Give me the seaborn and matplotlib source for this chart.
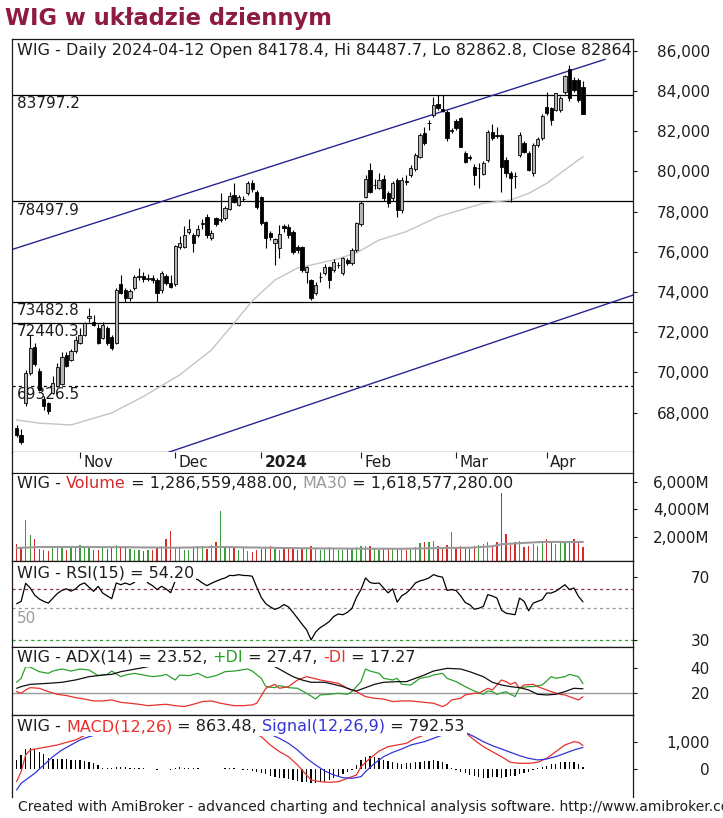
import matplotlib
matplotlib.use('Agg')
import matplotlib.pyplot as plt
import matplotlib.patches as mpatches
import seaborn as sns
import numpy as np

# ---------------- data ----------------
opens = [67250, 66900, 68450, 69950, 71250, 70050, 68650, 68450, 68950, 69300,
         69400, 70850, 70600, 71050, 71450, 71860, 72700, 72520, 72200, 71700,
         72200, 71750, 71450, 74400, 74100, 73700, 74200, 74750, 74800, 74650,
         74700, 74600, 74100, 74800, 74430, 74400, 76250, 76250, 77000, 76830,
         76830, 77400, 77710, 76670, 77660, 77600, 77690, 78110, 78820, 78330,
         78600, 78900, 79400, 78990, 78700, 77490, 76950, 76420, 76170, 77280,
         77240, 76990, 76250, 76250, 75000, 74600, 73930, 74740, 74930, 75250,
         75090, 75330, 74930, 75590, 75420, 76090, 77400, 78740, 80065, 79300,
         79150, 79600, 78900, 78650, 79570, 78080, 79500, 79820, 80100, 80720,
         81890, 82400, 82800, 83350, 83100, 82968, 82000, 82500, 82636, 80895,
         80700, 80232, 80150, 79870, 80560, 81970, 81800, 81800, 80560, 79900,
         79770, 80810, 81390, 80900, 79900, 81310, 81640, 83180, 83130, 83050,
         83050, 83960, 85070, 84540, 84540, 84178.4]
highs = [67400, 67200, 70100, 71860, 71450, 70200, 68800, 68500, 69800, 70450,
         71000, 71000, 71150, 71800, 72200, 72500, 73185, 72850, 72400, 72500,
         72300, 71850, 74200, 74850, 74200, 74150, 74850, 75180, 75000, 74900,
         74850, 74700, 75050, 74900, 74840, 76350, 76780, 77280, 77640, 76950,
         77330, 77610, 77900, 77080, 77750, 78900, 78250, 78990, 79430, 78800,
         78750, 79500, 79550, 79050, 78750, 77550, 77050, 76700, 77330, 77380,
         77400, 77100, 76350, 76300, 75300, 74650, 74500, 75000, 75400, 75300,
         75650, 75500, 75750, 75700, 76200, 77500, 78500, 79800, 80400, 79600,
         79900, 79800, 79000, 79500, 79650, 79700, 79800, 80300, 80900, 81900,
         82220, 82550, 83720, 83800, 83797, 83050, 82150, 82600, 82700, 81000,
         80800, 80350, 80400, 80500, 82050, 82350, 82200, 81850, 80700, 80000,
         79950, 81950, 81500, 81000, 81400, 81700, 82850, 83960, 83200, 83900,
         83750, 84800, 85290, 84700, 84650, 84487.7]
lows = [66800, 66450, 68300, 69850, 70300, 69050, 68100, 67950, 68900, 69250,
        69350, 70250, 70550, 70950, 71400, 71800, 72520, 72300, 71400, 71650,
        71350, 71100, 71400, 73900, 73500, 73550, 74100, 74600, 74500, 74550,
        74450, 73500, 73950, 74350, 74200, 74300, 76150, 76200, 76900, 76000,
        76750, 77150, 76670, 76600, 77300, 77500, 77600, 78050, 78400, 78250,
        78500, 78800, 78950, 78100, 77350, 76170, 76600, 75340, 75670, 77000,
        76700, 75900, 75950, 75000, 74430, 73600, 73850, 74500, 74850, 74180,
        75000, 75200, 74850, 75350, 75350, 76000, 77300, 78650, 78900, 79100,
        79100, 78500, 78200, 78500, 77750, 77950, 79300, 79700, 80000, 80650,
        81300, 82050, 82700, 83050, 82950, 81500, 81900, 82050, 81200, 80400,
        80550, 79320, 79150, 79800, 80450, 81550, 81650, 78990, 79700, 78490,
        79150, 80700, 80900, 80000, 79750, 81200, 81550, 82800, 82300, 83000,
        82950, 83850, 83500, 83950, 83450, 82862.8]
closes = [66900, 66550, 69950, 71195, 70400, 69120, 68300, 68050, 69450, 70280,
          70780, 70300, 71050, 71600, 71850, 72430, 72800, 72350, 71450, 72350,
          71450, 71200, 74100, 73950, 73700, 74050, 74750, 74800, 74650, 74700,
          74600, 73930, 74950, 74450, 74260, 76280, 76420, 76830, 77150, 76450,
          77110, 77420, 76830, 76910, 77380, 77620, 78160, 78770, 78490, 78700,
          78610, 79400, 79100, 78240, 77450, 76660, 76750, 76620, 76880, 77160,
          76830, 76000, 76080, 75100, 75250, 73700, 74340, 74760, 75260, 74600,
          75500, 75350, 75670, 75420, 76090, 77410, 78410, 79600, 78990, 79320,
          79570, 78650, 78410, 79400, 78080, 79570, 79470, 80150, 80810, 81800,
          81390, 82420, 83300, 83130, 83000, 81641, 82060, 82140, 81227, 80481,
          80680, 79818, 80160, 80400, 81970, 81640, 81780, 80230, 79900, 79650,
          79750, 81810, 80980, 80070, 81310, 81590, 82750, 82880, 82550, 83880,
          83630, 84740, 83630, 84050, 83550, 82864]
volume_m = [1500, 1150, 3200, 2100, 1850,
            1100, 1000, 950, 1300, 1300, 1300, 1000, 1250, 1350,
            1400, 1350, 1200, 1050, 1000, 1200, 1100, 1150, 1400,
            1350, 1300, 1100, 1000, 1050, 950, 1050, 1000, 1150, 1300, 1850, 2450,
            1250, 1150, 1050, 1000, 1200, 1300, 1300, 1100, 1400, 1600, 3850,
            1300, 1250, 1150, 1050, 1250, 950, 900, 1050, 1100, 1150, 1300, 1100, 1050, 1150, 1200,
            1150, 1050, 1200, 1250, 1350, 1150, 1050, 1100, 1250, 1100, 1000, 1050, 1150, 1100, 1250,
            1300, 1350, 1300, 1100, 1050, 1150, 1100, 1200, 1150, 1100, 1050, 1150, 1250, 1550, 1650,
            1650, 1700, 1300, 1200, 1400, 2350, 1200, 1300, 1250, 1100, 1300, 1400, 1450, 1650, 1300,
            1600, 5200, 2200, 1400, 1600, 1700, 1250, 1300, 1500, 1300, 1600, 1850, 1550, 1450, 1700,
            1550, 1600, 1850, 1600, 1286.6]
rsi = [53.0, 54.5, 66.0, 63.0, 58.5, 56.0, 54.5, 53.4, 56.5, 59.5,
       61.5, 62.5, 61.0, 62.4, 65.1, 66.2, 63.5, 60.9, 64.1, 59.8,
       58.0, 56.2, 66.2, 65.1, 66.2, 65.1, 66.6, 70.0, 70.0, 66.2,
       64.5, 62.0, 64.1, 62.4, 60.0, 67.5, 70.5, 71.0, 70.5, 69.0,
       68.3, 66.2, 64.5, 66.0, 67.3, 68.5, 69.4, 71.0, 70.9, 71.5,
       71.0, 70.9, 70.5, 63.5, 57.0, 53.0, 51.0, 49.4, 50.5, 52.5,
       51.0, 47.5, 43.8, 40.0, 36.4, 30.0, 35.0, 37.8, 39.6, 41.7,
       44.9, 46.5, 46.0, 47.5, 50.0, 57.0, 62.0, 69.4, 66.5, 65.9,
       66.2, 63.0, 59.9, 62.5, 54.0, 58.1, 59.8, 62.5, 66.2, 67.5,
       68.3, 69.4, 71.5, 70.5, 69.9, 61.5, 62.0, 61.4, 58.0, 53.8,
       52.4, 49.5, 50.1, 51.3, 58.8, 57.9, 56.6, 49.0, 47.0, 46.5,
       46.0, 56.6, 54.5, 48.5, 53.4, 54.5, 55.6, 59.8, 59.8, 61.0,
       63.0, 65.1, 62.0, 63.0, 57.7, 54.2]
macd_hist = [330, 513, 733, 781, 733, 635, 537, 415, 366, 366, 366, 366, 342, 330, 330, 293, 269, 208, 147, 49,
             30, 20, 60, 70, 60, 50, 40, 30, 20, 10, -10, -20, 10, -10, -20, 40, 60, 50, 40, 20, 20, 15,
             -10, -15, -10, 10, 20, 25, 20, 10, -20, -50,
             -73, -122, -159, -195, -244, -281, -317, -342, -366, -403, -440, -464, -488, -525, -500,
             -488, -464, -403, -342, -281, -195, -122, -37,
             147, 330, 452, 476, 452, 391, 330, 293, 244, 208, 195, 208, 232, 244, 269, 293, 305, 330,
             293, 244, 171,
             49, -24, -98, -159, -220, -256, -293, -317, -317, -293, -293, -317, -293, -269, -244, -195,
             -147, -98,
             -49, 24, 85, 122, 171, 195, 244, 269, 269, 244, 195, 71]

ma_bars = [0, 5, 12, 21, 28, 36, 43, 48, 52, 57, 62, 70, 75, 80, 86, 93, 103, 109, 113, 117, 121, 125]
ma_vals = [67630, 67470, 67380, 67980, 68800, 69870, 71110, 72450, 73550, 74590, 75190, 75590,
           75940, 76580, 77000, 77740, 78410, 78570, 78900, 79400, 80070, 80730]
vol_ma_bars = [0, 5, 15, 25, 35, 45, 55, 65, 75, 85, 95, 100, 105, 107, 112, 116, 125]
vol_ma_vals = [1180, 1250, 1250, 1230, 1200, 1250, 1200, 1150, 1130, 1120, 1180, 1200, 1300, 1450,
               1550, 1620, 1618.6]
adx_bars = [0, 1, 3, 7, 10, 13, 16, 19, 21, 23, 25, 27, 29, 31, 37, 47, 54, 57, 59, 61, 63, 65, 68,
            70, 72, 74, 75, 77, 79, 81, 84, 86, 88, 90, 92, 95, 98, 100, 103, 105, 107, 109, 111,
            113, 115, 117, 119, 121, 123, 125]
adx_vals = [23.9, 25.2, 27.0, 27.8, 28.6, 30.4, 33.0, 34.3, 34.8, 36.9, 38.2, 39.5, 40.8, 43.4, 47.3,
            48.6, 44.7, 40.8, 36.9, 33.0, 30.4, 28.6, 28.6, 27.0, 25.2, 22.6, 21.8, 24.4, 27.0, 28.6,
            29.1, 29.1, 31.7, 34.3, 37.4, 39.5, 39.0, 36.9, 33.0, 28.6, 26.5, 25.2, 24.4, 22.6, 19.2,
            18.7, 19.2, 21.3, 23.9, 23.52]
pdi_bars = [0, 1, 2, 3, 5, 7, 8, 10, 12, 14, 16, 18, 20, 21, 23, 24, 26, 28, 30, 32, 33, 35, 36, 38,
            40, 42, 44, 46, 48, 51, 52, 54, 55, 57, 58, 60, 62, 64, 66, 67, 69, 71, 73, 74, 76, 77,
            78, 80, 81, 83, 84, 85, 87, 88, 89, 91, 92, 94, 95, 97, 99, 101, 103, 104, 105, 106, 108,
            109, 110, 111, 113, 114, 116, 118, 119, 121, 122, 124, 125]
pdi_vals = [28.6, 31.7, 40.8, 40.5, 36.9, 35.6, 37.4, 39.0, 37.4, 39.0, 38.2, 33.8, 34.8, 37.4, 33.0,
            34.3, 35.6, 34.3, 33.0, 33.8, 34.8, 30.4, 34.3, 33.8, 35.6, 32.2, 33.8, 36.9, 37.4, 39.0,
            37.4, 31.7, 25.2, 24.4, 26.0, 24.4, 23.9, 20.0, 15.6, 18.7, 19.2, 20.0, 19.2, 21.3, 29.1,
            39.0, 37.4, 35.6, 31.7, 30.4, 31.7, 27.0, 26.5, 29.1, 31.7, 33.0, 34.3, 35.6, 31.7, 29.1,
            25.2, 21.8, 19.2, 21.8, 21.3, 19.2, 21.3, 19.2, 17.4, 24.4, 25.2, 25.2, 26.5, 33.0, 31.7,
            33.0, 34.8, 33.0, 27.47]
mdi_bars = [0, 1, 2, 3, 5, 7, 9, 11, 13, 15, 17, 19, 21, 23, 25, 27, 29, 31, 33, 35, 37, 39, 41, 43,
            45, 48, 50, 52, 53, 55, 57, 58, 60, 62, 64, 65, 67, 69, 71, 73, 75, 77, 79, 81, 83, 85,
            87, 90, 92, 94, 95, 96, 98, 99, 101, 102, 104, 105, 107, 108, 109, 110, 111, 112, 114,
            115, 117, 118, 120, 121, 123, 124, 125]
mdi_vals = [21.3, 20.0, 22.6, 24.4, 23.9, 21.3, 19.2, 18.2, 16.6, 15.5, 14.0, 14.0, 14.8, 12.9, 12.2,
            11.4, 10.3, 10.9, 11.4, 10.3, 9.6, 11.4, 13.5, 14.0, 12.2, 10.3, 10.3, 10.9, 12.2, 23.9,
            27.0, 23.9, 25.2, 30.4, 33.0, 32.2, 30.4, 29.1, 27.8, 23.9, 21.3, 17.4, 16.1, 15.5, 13.5,
            14.0, 14.0, 12.9, 12.2, 9.6, 11.4, 14.8, 16.1, 18.7, 20.0, 20.0, 23.9, 22.6, 30.4, 29.1,
            27.0, 28.6, 23.9, 26.5, 27.0, 25.2, 22.6, 21.3, 19.2, 18.7, 16.1, 14.8, 17.27]
macd_bars = [0, 1, 2, 3, 5, 7, 9, 11, 13, 14, 16, 22, 32, 42, 50, 54, 56, 58, 60, 62, 64, 65, 67, 69,
             71, 73, 75, 76, 78, 80, 82, 84, 86, 88, 90, 93, 96, 99, 101, 103, 105, 107, 109, 111,
             113, 115, 117, 119, 121, 123, 124, 125]
macd_vals = [-464, -98, 513, 696, 757, 818, 879, 977, 1062, 1148, 1306, 1560, 1680, 1680, 1560, 1184,
             879, 635, 452, 146, -220, -403, -464, -489, -464, -342, -220, 85, 391, 659, 818, 879,
             940, 1123, 1245, 1490, 1550, 1343, 1062, 818, 635, 452, 244, 207, 207, 244, 391, 635,
             879, 1001, 977, 863.48]
sig_bars = [0, 1, 4, 6, 8, 10, 12, 14, 16, 18, 27, 37, 47, 56, 58, 60, 62, 64, 66, 68, 70, 72, 74, 76,
            77, 79, 81, 83, 85, 87, 90, 92, 94, 97, 99, 101, 103, 105, 107, 109, 111, 113, 115, 117,
            119, 121, 123, 125]
sig_vals = [-769, -525, -159, 146, 452, 696, 879, 1062, 1184, 1270, 1600, 1680, 1600, 1270, 1123, 940,
            696, 391, 146, -73, -220, -318, -342, -281, -98, 207, 452, 610, 733, 879, 1001, 1123,
            1245, 1400, 1343, 1184, 1001, 855, 733, 610, 488, 391, 330, 367, 452, 574, 696, 792.53]

month_labels = ['Nov', 'Dec', '2024', 'Feb', 'Mar', 'Apr']
month_bars = [14, 35, 54, 76, 97, 117]
price_levels = [83797.2, 78497.9, 73482.8, 72440.3]
dashed_level = 69326.5
upper_trend_bars = [-1.08, 129.9]
upper_trend_vals = [76104, 85572]
lower_trend_bars = [20.0, 136.1]
lower_trend_vals = [64990, 73846]
price_ticks = [68000, 70000, 72000, 74000, 76000, 78000, 80000, 82000, 84000, 86000]
vol_ticks = [2000, 4000, 6000]
rsi_levels = [62.5, 50, 30]
rsi_ticks = [30, 70]
adx_ticks = [20, 40]
macd_ticks = [0, 1000]

# ---------------- style / layout ----------------
sns.set_theme(style='white')
plt.rcParams['font.family'] = ['DejaVu Sans']
plt.rcParams['axes.edgecolor'] = '#1a1a1a'
plt.rcParams['axes.linewidth'] = 0.9

W, H = 723, 818
fig = plt.figure(figsize=(W / 100, H / 100), dpi=100)
fig.patch.set_facecolor('white')
XL = (-1.08, 136.1)
LEFT, RIGHT = 11.7, 633.3
TXT = '#1e1e1e'
FS = 11
TFS = 11.5


def add_ax(top, bottom):
    a = fig.add_axes([LEFT / W, 1 - bottom / H, (RIGHT - LEFT) / W, (bottom - top) / H])
    a.set_facecolor('white')
    a.set_xlim(*XL)
    a.set_xticks([])
    a.set_xlabel('')
    a.set_ylabel('')
    for s in a.spines.values():
        s.set_color('#1a1a1a')
        s.set_linewidth(0.9)
    return a


def right_ticks(a, ticks, labels):
    a.yaxis.tick_right()
    a.set_yticks(ticks)
    a.set_yticklabels(labels)
    a.tick_params(axis='y', which='both', right=True, left=False, direction='out', length=3,
                  width=0.8, color='#1a1a1a', pad=52, labelsize=FS, labelcolor=TXT)
    for lab in a.get_yticklabels():
        lab.set_horizontalalignment('right')


idx = np.arange(len(closes))
o = np.array(opens, dtype=float)
c = np.array(closes, dtype=float)
h = np.array(highs, dtype=float)
l = np.array(lows, dtype=float)
up = c >= o

# ---- main price panel ----
ax = add_ax(39.3, 451.7)
ax.vlines(idx, l, h, color='black', lw=0.8, zorder=4)
ax.bar(idx, np.abs(c - o), bottom=np.minimum(o, c), width=0.72,
       color=np.where(up, '#b4b4b4', '#000000'), edgecolor='black', linewidth=0.6, zorder=5)
for lv in price_levels:
    ax.axhline(lv, color='black', lw=0.9, zorder=2)
    ax.annotate(f'{lv:.1f}', xy=(0, lv), xycoords=('axes fraction', 'data'), xytext=(3.8, -0.8),
                textcoords='offset points', ha='left', va='top', fontsize=FS, color=TXT, zorder=3)
ax.axhline(dashed_level, color='black', lw=0.9, ls=(0, (2.5, 2.5)), zorder=2)
ax.annotate(f'{dashed_level:.1f}', xy=(0, dashed_level), xycoords=('axes fraction', 'data'),
            xytext=(3.8, -0.8), textcoords='offset points', ha='left', va='top', fontsize=FS,
            color=TXT, zorder=3)
sns.lineplot(x=ma_bars, y=ma_vals, ax=ax, color='#c4c4c4', lw=1.0, estimator=None, legend=False)
sns.lineplot(x=upper_trend_bars, y=upper_trend_vals, ax=ax, color='#26268f', lw=1.0,
             estimator=None, legend=False)
sns.lineplot(x=lower_trend_bars, y=lower_trend_vals, ax=ax, color='#26268f', lw=1.0,
             estimator=None, legend=False)
ax.set_xlim(*XL)
ax.set_ylim(66050, 86567)
right_ticks(ax, price_ticks, [f'{t:,}' for t in price_ticks])
ax.set_xlabel('')
ax.set_ylabel('')

# ---- date strip ----
axd = add_ax(451.7, 472.8)
axd.set_ylim(0, 1)
axd.set_yticks([])
axd.spines['top'].set_visible(False)
axd.spines['bottom'].set_visible(False)
axd.set_xticks(month_bars)
axd.set_xticklabels([])
axd.tick_params(axis='x', which='both', top=True, bottom=False, direction='in', length=4,
                width=0.8, color='#1a1a1a', labelbottom=False, labeltop=False)
for b, lab in zip(month_bars, month_labels):
    axd.annotate(lab, xy=(b, 0.5), xycoords='data', xytext=(2.2, 0), textcoords='offset points',
                 ha='left', va='center', fontsize=FS, color=TXT,
                 fontweight='bold' if lab == '2024' else 'normal')

# ---- volume panel ----
axv = add_ax(472.8, 560.5)
vcol = np.where(up, '#3a9d3a', '#d42a2a')
axv.bar(idx, volume_m, width=0.28, color=vcol, linewidth=0, zorder=2)
sns.lineplot(x=vol_ma_bars, y=vol_ma_vals, ax=axv, color='#9a9a9a', lw=1.5, estimator=None,
             legend=False)
axv.set_xlim(*XL)
axv.set_ylim(263, 6676)
right_ticks(axv, vol_ticks, [f'{t:,}M' for t in vol_ticks])
axv.set_xlabel('')
axv.set_ylabel('')

# ---- RSI panel ----
axr = add_ax(560.5, 646.5)
axr.axhline(rsi_levels[0], color='#8c3848', lw=0.9, ls=(0, (2.5, 2.5)), zorder=1)
axr.axhline(rsi_levels[1], color='#9a9a9a', lw=0.9, ls=(0, (2.5, 2.5)), zorder=1)
axr.axhline(rsi_levels[2], color='#2aa02a', lw=0.9, ls=(0, (2.5, 2.5)), zorder=1)
axr.annotate('50', xy=(0, 50), xycoords=('axes fraction', 'data'), xytext=(3.8, -2),
             textcoords='offset points', ha='left', va='top', fontsize=FS, color='#9a9a9a')
sns.lineplot(x=idx, y=rsi, ax=axr, color='black', lw=0.9, estimator=None, legend=False)
axr.set_xlim(*XL)
axr.set_ylim(25.8, 80.5)
right_ticks(axr, rsi_ticks, [str(t) for t in rsi_ticks])
axr.set_xlabel('')
axr.set_ylabel('')

# ---- ADX panel ----
axa = add_ax(646.5, 714.5)
axa.axhline(20, color='#9a9a9a', lw=1.0, zorder=1)
sns.lineplot(x=pdi_bars, y=pdi_vals, ax=axa, color='#2ca02c', lw=0.9, estimator=None, legend=False)
sns.lineplot(x=mdi_bars, y=mdi_vals, ax=axa, color='#e8302c', lw=0.9, estimator=None, legend=False)
sns.lineplot(x=adx_bars, y=adx_vals, ax=axa, color='#111111', lw=0.9, estimator=None, legend=False)
axa.set_xlim(*XL)
axa.set_ylim(3.4, 56.6)
right_ticks(axa, adx_ticks, [str(t) for t in adx_ticks])
axa.set_xlabel('')
axa.set_ylabel('')

# ---- MACD panel ----
axm = add_ax(714.5, 797)
axm.spines['bottom'].set_visible(False)
axm.bar(idx, macd_hist, width=0.3, color='black', linewidth=0, zorder=1)
sns.lineplot(x=macd_bars, y=macd_vals, ax=axm, color='#e8302c', lw=0.9, estimator=None, legend=False)
sns.lineplot(x=sig_bars, y=sig_vals, ax=axm, color='#3434d8', lw=0.9, estimator=None, legend=False)
axm.set_xlim(*XL)
axm.set_ylim(-1026, 1996)
right_ticks(axm, macd_ticks, ['0', '1,000'])
axm.set_xlabel('')
axm.set_ylabel('')

# ---- texts ----
renderer = fig.canvas.get_renderer()


def text_width(s, size):
    if not s:
        return 0.0
    t1 = fig.text(0, 0, s + '|', fontsize=size)
    t2 = fig.text(0, 0, '|', fontsize=size)
    w = t1.get_window_extent(renderer).width - t2.get_window_extent(renderer).width
    t1.remove()
    t2.remove()
    return w


def panel_title(x_px, base_px, parts, size=TFS, bg=True):
    prefix = ''
    boxes = []
    for s, col in parts:
        off = text_width(prefix, size)
        t = fig.text((x_px + off) / W, 1 - base_px / H, s, color=col, fontsize=size,
                     va='baseline', ha='left', zorder=6)
        boxes.append(t.get_window_extent(renderer))
        prefix += s
    if bg:
        x0 = min(b.x0 for b in boxes) - 2
        x1 = max(b.x1 for b in boxes) + 2
        y0 = min(b.y0 for b in boxes) - 1.5
        y1 = max(b.y1 for b in boxes) + 2.5
        fig.patches.append(mpatches.Rectangle((x0 / W, y0 / H), (x1 - x0) / W, (y1 - y0) / H,
                                              transform=fig.transFigure, facecolor='white',
                                              edgecolor='none', zorder=4, figure=fig))


panel_title(17, 55.5, [('WIG - Daily 2024-04-12 Open 84178.4, Hi 84487.7, Lo 82862.8, Close 82864', TXT)],
            bg=False)
panel_title(17, 488, [('WIG - ', TXT), ('Volume', '#d42a2a'),
                      (' = 1,286,559,488.00, ', TXT), ('MA30', '#9a9a9a'),
                      (' = 1,618,577,280.00', TXT)])
panel_title(17, 577.5, [('WIG - RSI(15) = 54.20', TXT)])
panel_title(17, 662, [('WIG - ADX(14) = 23.52, ', TXT), ('+DI', '#2ca02c'), (' = 27.47, ', TXT),
                      ('-DI', '#e8302c'), (' = 17.27', TXT)])
panel_title(17, 731, [('WIG - ', TXT), ('MACD(12,26)', '#e8302c'), (' = 863.48, ', TXT),
                      ('Signal(12,26,9)', '#3434d8'), (' = 792.53', TXT)])

fig.text(5 / W, 1 - 24.5 / H, 'WIG w układzie dziennym', fontsize=16.3, fontweight='bold',
         color='#8e1b40', va='baseline', ha='left')
fig.text(18 / W, 1 - 811 / H,
         'Created with AmiBroker - advanced charting and technical analysis software. http://www.amibroker.com',
         fontsize=10.0, color=TXT, va='baseline', ha='left')

fig.savefig('out.png', dpi=100, facecolor='white')
